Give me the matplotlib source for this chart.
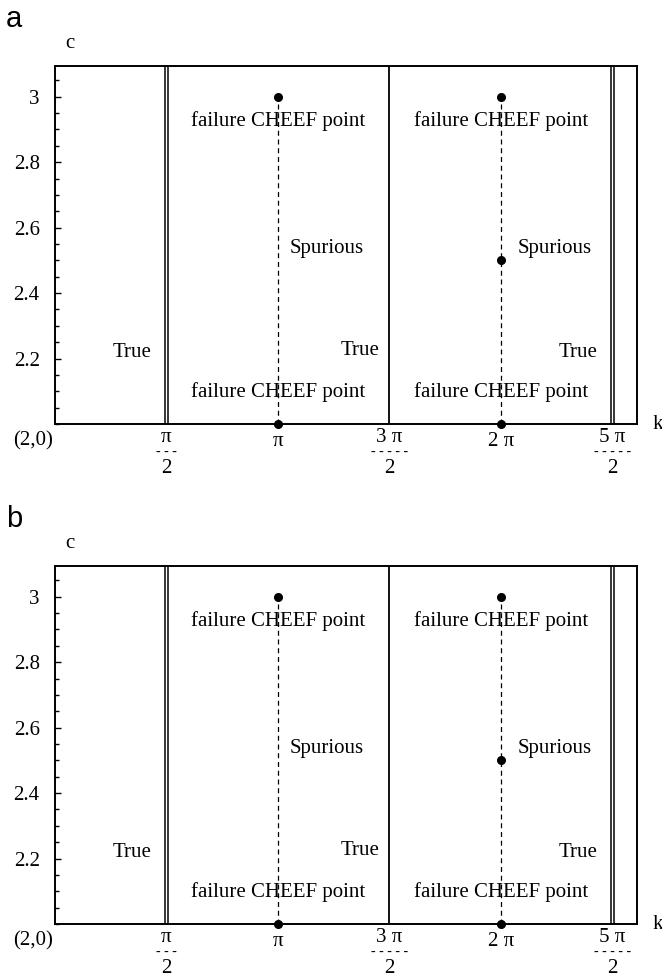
import numpy as np
import matplotlib
matplotlib.use("Agg")
import matplotlib.pyplot as plt
from matplotlib.ticker import MultipleLocator

plt.rcParams['font.family'] = ['Liberation Serif', 'DejaVu Serif']

pi = np.pi

# data
double_lines = [pi / 2, 5 * pi / 2]
single_lines = [3 * pi / 2]
dashed_k = [pi, 2 * pi]
dashed_c = [2.0, 3.0]
pt_k = [pi, pi, 2 * pi, 2 * pi, 2 * pi]
pt_c = [3.0, 2.0, 3.0, 2.5, 2.0]

label_text = ["failure CHEEF point", "failure CHEEF point",
              "failure CHEEF point", "failure CHEEF point",
              "Spurious", "Spurious", "True", "True", "True"]
label_k = [pi, 2 * pi, pi, 2 * pi, 3.30, 6.52, 1.36, 4.57, 7.64]
label_c = [2.925, 2.925, 2.097, 2.097, 2.535, 2.535, 2.22, 2.225, 2.22]
label_ha = ["center", "center", "center", "center",
            "left", "left", "right", "right", "right"]

xtick_pos = [pi / 2, pi, 3 * pi / 2, 2 * pi, 5 * pi / 2]
xtick_top = ["π", "π", "3 π", "2 π", "5 π"]
xtick_bot = ["2", None, "2", None, "2"]
xtick_bar = ["- - -", None, "- - - - -", None, "- - - - -"]
ytick_pos = [2.2, 2.4, 2.6, 2.8, 3.0]
ytick_lab = ["2.2", "2.4", "2.6", "2.8", "3"]


def draw_panel(ax, letter):
    ax.set_xlim(0, 8.2)
    ax.set_ylim(2.0, 3.094)
    for s in ax.spines.values():
        s.set_linewidth(1.4)

    for x in double_lines:
        ax.axvline(x - 0.02, color='black', lw=1.1)
        ax.axvline(x + 0.02, color='black', lw=1.1)
    for x in single_lines:
        ax.axvline(x, color='black', lw=1.3)
    for x in dashed_k:
        ax.plot([x, x], dashed_c, color='black', lw=0.9, ls=(0, (4, 3)))
    ax.plot(pt_k, pt_c, 'o', color='black', ms=5.5, clip_on=False, zorder=5)

    for t, k, c, ha in zip(label_text, label_k, label_c, label_ha):
        ax.text(k, c, t, ha=ha, va='center', fontsize=15)

    ax.set_xticks(xtick_pos)
    ax.set_xticklabels([])
    ax.tick_params(axis='x', length=0)
    ax.set_yticks(ytick_pos)
    ax.set_yticklabels(ytick_lab, fontsize=15)
    ax.yaxis.set_minor_locator(MultipleLocator(0.05))
    ax.tick_params(axis='y', which='major', direction='in', length=4, width=1, pad=11)
    ax.tick_params(axis='y', which='minor', direction='in', length=3, width=1)

    trans = ax.get_xaxis_transform()
    for x, top, bot, bar in zip(xtick_pos, xtick_top, xtick_bot, xtick_bar):
        if bot is None:
            ax.annotate(top, (x, 0), xycoords=trans, xytext=(0, -6),
                        textcoords='offset points', ha='center', va='top', fontsize=15)
        else:
            ax.annotate(top, (x, 0), xycoords=trans, xytext=(0, -3),
                        textcoords='offset points', ha='center', va='top', fontsize=15)
            ax.annotate(bar, (x, 0), xycoords=trans, xytext=(0, -20),
                        textcoords='offset points', ha='center', va='center', fontsize=10)
            ax.annotate(bot, (x, 0), xycoords=trans, xytext=(0, -25),
                        textcoords='offset points', ha='center', va='top', fontsize=15)

    ax.text(-0.038, -0.047, "(2,0)", transform=ax.transAxes, ha='center', va='center', fontsize=15)
    ax.text(0.026, 1.064, "c", transform=ax.transAxes, ha='center', va='center', fontsize=15)
    ax.text(1.036, 0.0, "k", transform=ax.transAxes, ha='center', va='center', fontsize=15)
    ax.text(-0.07, 1.13, letter, transform=ax.transAxes, ha='center', va='center',
            fontsize=21, family=['Liberation Sans', 'DejaVu Sans'])


fig = plt.figure(figsize=(6.62, 9.80), dpi=100)
ax1 = fig.add_axes([0.0831, 0.5673, 0.8792, 0.3654])
ax2 = fig.add_axes([0.0831, 0.0571, 0.8792, 0.3654])
draw_panel(ax1, "a")
draw_panel(ax2, "b")

fig.savefig("out.png", dpi=100)
